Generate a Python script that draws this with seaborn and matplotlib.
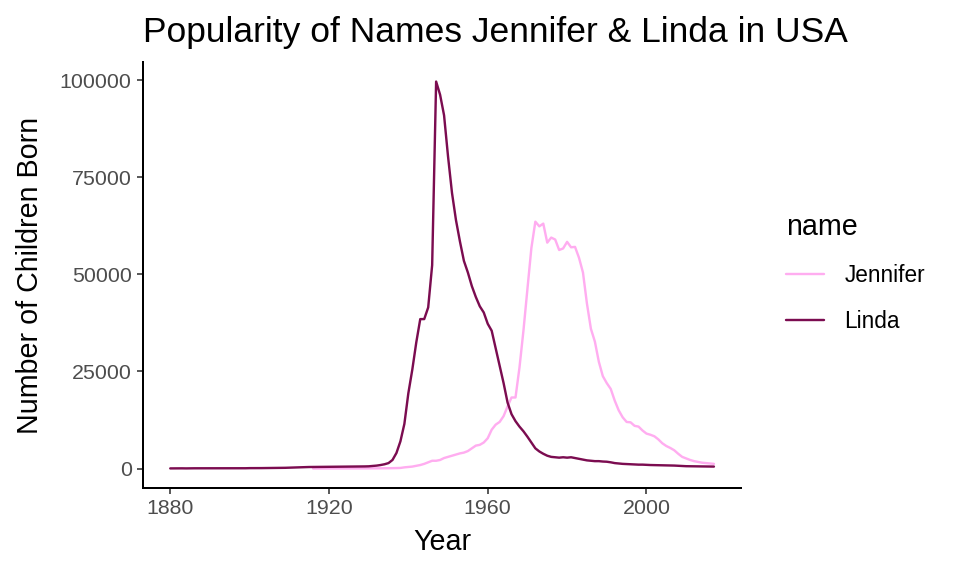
import numpy as np
import pandas as pd
import matplotlib
matplotlib.use("Agg")
import matplotlib.pyplot as plt
import seaborn as sns
from matplotlib.lines import Line2D

# ---- data ----
linda_years = list(range(1880, 2018))
linda_counts = [
    # 1880-1899
    30, 38, 36, 49, 33, 60, 59, 59, 64, 56, 62, 59, 74, 69, 71, 71, 82, 69, 81, 73,
    # 1900-1919
    100, 95, 105, 110, 120, 130, 140, 150, 165, 185, 220, 250, 300, 330, 360, 390, 400, 410, 420, 420,
    # 1920-1929
    430, 440, 450, 460, 470, 480, 490, 500, 520, 540,
    # 1930-1939
    570, 650, 750, 900, 1100, 1400, 2200, 4000, 7000, 11500,
    # 1940-1949
    19400, 25500, 32500, 38500, 38500, 41500, 52400, 99700, 96300, 91000,
    # 1950-1959
    80400, 71000, 64000, 58500, 53500, 50500, 47000, 44200, 41800, 40200,
    # 1960-1969
    37300, 35500, 31000, 26500, 22000, 17000, 14000, 12200, 10800, 9600,
    # 1970-1979
    8200, 6700, 5200, 4400, 3800, 3300, 3000, 2900, 2800, 2900,
    # 1980-1989
    2800, 2900, 2700, 2500, 2300, 2100, 2000, 1900, 1900, 1800,
    # 1990-1999
    1750, 1600, 1400, 1300, 1200, 1150, 1100, 1050, 1000, 1000,
    # 2000-2009
    950, 900, 880, 850, 820, 800, 780, 760, 700, 650,
    # 2010-2017
    600, 580, 560, 550, 540, 530, 520, 500,
]

jennifer_years = list(range(1916, 2018))
jennifer_counts = [
    # 1916-1929
    10, 12, 14, 15, 18, 20, 22, 24, 26, 28, 30, 32, 34, 36,
    # 1930-1939
    40, 45, 50, 60, 70, 80, 100, 120, 150, 300,
    # 1940-1949
    400, 500, 700, 900, 1200, 1600, 2000, 2000, 2200, 2700,
    # 1950-1959
    3000, 3300, 3600, 3900, 4100, 4500, 5200, 5900, 6100, 6700,
    # 1960-1969
    7800, 10000, 11300, 12000, 13500, 16000, 18300, 18300, 26000, 35500,
    # 1970-1979
    46200, 56800, 63600, 62400, 63100, 58200, 59500, 59000, 56300, 56700,
    # 1980-1989
    58400, 57000, 57100, 54300, 50500, 42500, 36000, 32700, 27500, 23800,
    # 1990-1999
    22000, 20500, 17500, 15000, 13200, 12000, 11900, 11000, 10800, 9800,
    # 2000-2009
    9000, 8700, 8300, 7500, 6500, 5800, 5300, 4700, 3800, 3000,
    # 2010-2017
    2600, 2200, 1900, 1700, 1500, 1400, 1300, 1200,
]

names = ["Jennifer", "Linda"]
colors = ["#FFADF0", "#7B0C50"]
x_ticks = [1880, 1920, 1960, 2000]
y_ticks = [0, 25000, 50000, 75000, 100000]

df = pd.concat([
    pd.DataFrame({"year": jennifer_years, "n": jennifer_counts, "name": "Jennifer"}),
    pd.DataFrame({"year": linda_years, "n": linda_counts, "name": "Linda"}),
], ignore_index=True)

# ---- plot ----
sns.set_theme(style="white")
plt.rcParams["font.family"] = ["Liberation Sans", "DejaVu Sans"]
plt.rcParams["text.color"] = "black"

fig = plt.figure(figsize=(10, 6), dpi=96)
ax = fig.add_axes([0.149, 0.153, 0.623, 0.739])

sns.lineplot(data=df, x="year", y="n", hue="name", hue_order=names,
             palette=dict(zip(names, colors)), linewidth=1.8, ax=ax,
             legend=False)

xmin, xmax = 1880, 2017
ymax = max(max(linda_counts), max(jennifer_counts))
ax.set_xlim(xmin - 0.05 * (xmax - xmin), xmax + 0.05 * (xmax - xmin))
ax.set_ylim(-0.05 * ymax, ymax * 1.05)
ax.set_xticks(x_ticks)
ax.set_yticks(y_ticks)
ax.set_xticklabels([str(t) for t in x_ticks])
ax.set_yticklabels([str(t) for t in y_ticks])

for s in ["top", "right"]:
    ax.spines[s].set_visible(False)
for s in ["left", "bottom"]:
    ax.spines[s].set_color("black")
    ax.spines[s].set_linewidth(1.5)
ax.tick_params(axis="both", length=4.5, width=1.2, color="#333333",
               labelcolor="#4D4D4D", labelsize=16, pad=4, direction="out",
               bottom=True, left=True)

ax.set_xlabel("Year", fontsize=21.5, color="black", labelpad=7)
ax.set_ylabel("Number of Children Born", fontsize=21.5, color="black", labelpad=12)
ax.set_title("Popularity of Names Jennifer & Linda in USA", fontsize=26.5,
             loc="left", color="black", pad=15)

handles = [Line2D([0], [0], color=c, lw=1.8) for c in colors]
leg = fig.legend(handles, names, title="name", loc="center left",
                 bbox_to_anchor=(0.798, 0.526), frameon=False,
                 fontsize=17, title_fontsize=21.5, handlelength=1.65,
                 labelspacing=1.0, handletextpad=0.9, labelcolor="black")
leg.get_title().set_color("black")
leg._legend_box.align = "left"

fig.savefig("out.png", dpi=96)
